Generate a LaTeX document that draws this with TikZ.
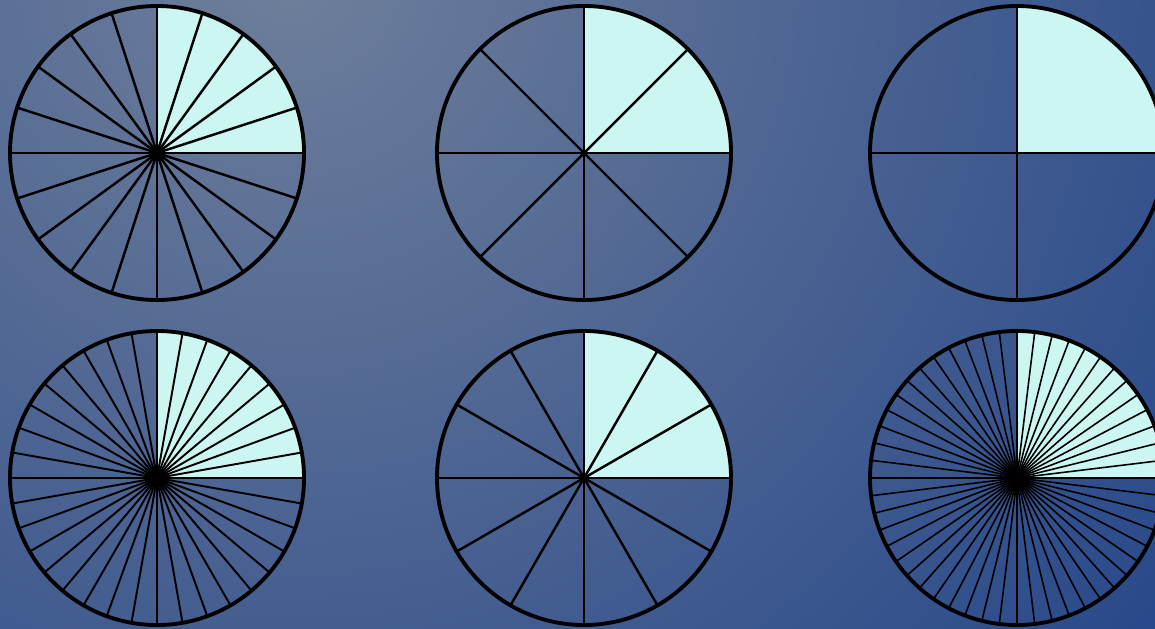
\documentclass[tikz,border=0pt]{standalone}
\usetikzlibrary{calc}

\begin{document}
\begin{tikzpicture}

% ---------------------------------------------------------------- colours
\definecolor{bglight}{HTML}{6F7F9B}   % the glow, upper left
\definecolor{bgdark}{HTML}{264789}    % the deep blue, right and below
\definecolor{c1}{HTML}{CCF6F2}        % the shaded quarter
\definecolor{c2}{HTML}{000000}        % rims and spokes

% ================================================================
% Geometry, 1 px of the sheet = 0.01 cm.
%
%   sheet 11.55 x 6.28
%   two rows of wheels, y = 4.75 and y = 1.50
%   three columns,      x = 1.57, 5.84, 10.17
%   radius 1.47 for every wheel (the right column runs off the sheet)
%
%   every wheel has its quarter from 0 to 90 degrees shaded:
%   5/20, 2/8, 1/4 above, 9/36, 3/12, 13/52 below
% ================================================================

\def\rad{1.47}

\tikzset{
    rim/.style={draw=c2, line width=1.1pt},
    spoke/.style={draw=c2, line cap=round},
    share/.style={fill=c1},
}

% ---------------------------------------------------------------- the sheet
\useasboundingbox (0,0) rectangle (11.55,6.28);
\clip (0,0) rectangle (11.55,6.28);
\fill[bgdark] (0,0) rectangle (11.55,6.28);
\shade[inner color=bglight, outer color=bgdark] (2.9,6.6) circle (11.2);

% ---------------------------------------------------------------- the wheels
\foreach \cx/\cy/\n/\w in {1.57/4.75/20/0.7, 5.84/4.75/8/0.7, 10.17/4.75/4/0.7,
                           1.57/1.50/36/0.55, 5.84/1.50/12/0.7, 10.17/1.50/52/0.45} {
    \coordinate (w\n) at (\cx, \cy);
    \fill[share] (w\n) -- ++(0,\rad) arc[start angle=90, end angle=0, radius=\rad] -- cycle;
    \foreach \k in {1,...,\n} {
        \pgfmathsetmacro{\ang}{360/\n*\k}
        \draw[spoke, line width=\w pt] (w\n) -- ++(\ang:\rad);
    }
    \draw[rim] (w\n) circle (\rad);
}

\end{tikzpicture}
\end{document}
